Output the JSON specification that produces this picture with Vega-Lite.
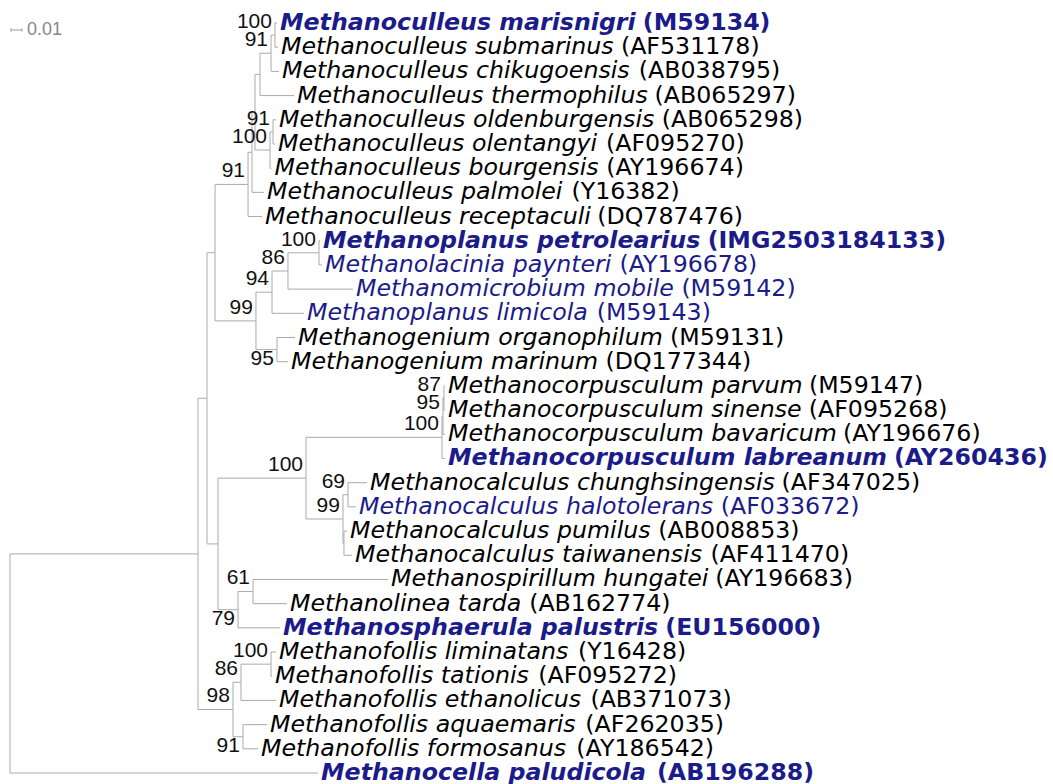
{
  "$schema": "https://vega.github.io/schema/vega-lite/v6.json",
  "width": 1053,
  "height": 784,
  "padding": 0,
  "autosize": {"type": "none"},
  "background": "white",
  "config": {"view": {"stroke": null}},
  "datasets": {
    "nodes": [
      {"id": "R", "parent": null, "depth": 0, "y": 27.4717},
      {"id": "A", "parent": "R", "depth": 0.1709, "y": 22.9434},
      {"id": "B", "parent": "A", "depth": 0.1791, "y": 16.5117},
      {"id": "B1", "parent": "B", "depth": 0.1864, "y": 10.4922},
      {"id": "MC", "parent": "B1", "depth": 0.2164, "y": 7.6719, "support": 91},
      {"id": "X", "parent": "MC", "depth": 0.2200, "y": 6.3438},
      {"id": "Y", "parent": "X", "depth": 0.2227, "y": 4.6875},
      {"id": "Ctop", "parent": "Y", "depth": 0.2273, "y": 3.125},
      {"id": "N91a", "parent": "Ctop", "depth": 0.2373, "y": 2.25, "support": 91},
      {"id": "N100a", "parent": "N91a", "depth": 0.2409, "y": 1.5, "support": 100},
      {"id": "L1", "parent": "N100a", "depth": 0.2427, "y": 1, "name": "Methanoculleus marisnigri", "accession": "M59134", "status": "bold"},
      {"id": "L2", "parent": "N100a", "depth": 0.2436, "y": 2, "name": "Methanoculleus submarinus", "accession": "AF531178", "status": "plain"},
      {"id": "L3", "parent": "N91a", "depth": 0.2445, "y": 3, "name": "Methanoculleus chikugoensis", "accession": "AB038795", "status": "plain"},
      {"id": "L4", "parent": "Ctop", "depth": 0.2582, "y": 4, "name": "Methanoculleus thermophilus", "accession": "AB065297", "status": "plain"},
      {"id": "N100o", "parent": "Y", "depth": 0.2364, "y": 6.25, "support": 100},
      {"id": "N91o", "parent": "N100o", "depth": 0.2391, "y": 5.5, "support": 91},
      {"id": "L5", "parent": "N91o", "depth": 0.2418, "y": 5, "name": "Methanoculleus oldenburgensis", "accession": "AB065298", "status": "plain"},
      {"id": "L6", "parent": "N91o", "depth": 0.2409, "y": 6, "name": "Methanoculleus olentangyi", "accession": "AF095270", "status": "plain"},
      {"id": "L7", "parent": "N100o", "depth": 0.2377, "y": 7, "name": "Methanoculleus bourgensis", "accession": "AY196674", "status": "plain"},
      {"id": "L8", "parent": "X", "depth": 0.2309, "y": 8, "name": "Methanoculleus palmolei", "accession": "Y16382", "status": "plain"},
      {"id": "L9", "parent": "MC", "depth": 0.2291, "y": 9, "name": "Methanoculleus receptaculi", "accession": "DQ787476", "status": "plain"},
      {"id": "N99p", "parent": "B1", "depth": 0.2236, "y": 13.3125, "support": 99},
      {"id": "N94", "parent": "N99p", "depth": 0.2382, "y": 12.125, "support": 94},
      {"id": "N86", "parent": "N94", "depth": 0.2527, "y": 11.25, "support": 86},
      {"id": "N100b", "parent": "N86", "depth": 0.2809, "y": 10.5, "support": 100},
      {"id": "L10", "parent": "N100b", "depth": 0.2818, "y": 10, "name": "Methanoplanus petrolearius", "accession": "IMG2503184133", "status": "bold"},
      {"id": "L11", "parent": "N100b", "depth": 0.2836, "y": 11, "name": "Methanolacinia paynteri", "accession": "AY196678", "status": "blue"},
      {"id": "L12", "parent": "N86", "depth": 0.3118, "y": 12, "name": "Methanomicrobium mobile", "accession": "M59142", "status": "blue"},
      {"id": "L13", "parent": "N94", "depth": 0.2673, "y": 13, "name": "Methanoplanus limicola", "accession": "M59143", "status": "blue"},
      {"id": "N95", "parent": "N99p", "depth": 0.2427, "y": 14.5, "support": 95},
      {"id": "L14", "parent": "N95", "depth": 0.2591, "y": 14, "name": "Methanogenium organophilum", "accession": "M59131", "status": "plain"},
      {"id": "L15", "parent": "N95", "depth": 0.2527, "y": 15, "name": "Methanogenium marinum", "accession": "DQ177344", "status": "plain"},
      {"id": "D", "parent": "B", "depth": 0.1891, "y": 22.5313},
      {"id": "BigCC", "parent": "D", "depth": 0.2691, "y": 19.8125, "support": 100},
      {"id": "N100c", "parent": "BigCC", "depth": 0.3927, "y": 18.125, "support": 100},
      {"id": "N95c", "parent": "N100c", "depth": 0.3936, "y": 17.25, "support": 95},
      {"id": "N87", "parent": "N95c", "depth": 0.3945, "y": 16.5, "support": 87},
      {"id": "L16", "parent": "N87", "depth": 0.3955, "y": 16, "name": "Methanocorpusculum parvum", "accession": "M59147", "status": "plain"},
      {"id": "L17", "parent": "N87", "depth": 0.3955, "y": 17, "name": "Methanocorpusculum sinense", "accession": "AF095268", "status": "plain"},
      {"id": "L18", "parent": "N95c", "depth": 0.3955, "y": 18, "name": "Methanocorpusculum bavaricum", "accession": "AY196676", "status": "plain"},
      {"id": "L19", "parent": "N100c", "depth": 0.3955, "y": 19, "name": "Methanocorpusculum labreanum", "accession": "AY260436", "status": "bold"},
      {"id": "Calc", "parent": "BigCC", "depth": 0.3027, "y": 21.5, "support": 99},
      {"id": "N69", "parent": "Calc", "depth": 0.3073, "y": 20.5, "support": 69},
      {"id": "L20", "parent": "N69", "depth": 0.3245, "y": 20, "name": "Methanocalculus chunghsingensis", "accession": "AF347025", "status": "plain"},
      {"id": "L21", "parent": "N69", "depth": 0.3145, "y": 21, "name": "Methanocalculus halotolerans", "accession": "AF033672", "status": "blue"},
      {"id": "P2", "parent": "Calc", "depth": 0.3036, "y": 22.5},
      {"id": "L22", "parent": "P2", "depth": 0.3064, "y": 22, "name": "Methanocalculus pumilus", "accession": "AB008853", "status": "plain"},
      {"id": "L23", "parent": "P2", "depth": 0.3109, "y": 23, "name": "Methanocalculus taiwanensis", "accession": "AF411470", "status": "plain"},
      {"id": "N79", "parent": "D", "depth": 0.2073, "y": 25.25, "support": 79},
      {"id": "N61", "parent": "N79", "depth": 0.2209, "y": 24.5, "support": 61},
      {"id": "L24", "parent": "N61", "depth": 0.3436, "y": 24, "name": "Methanospirillum hungatei", "accession": "AY196683", "status": "plain"},
      {"id": "L25", "parent": "N61", "depth": 0.2518, "y": 25, "name": "Methanolinea tarda", "accession": "AB162774", "status": "plain"},
      {"id": "L26", "parent": "N79", "depth": 0.2455, "y": 26, "name": "Methanosphaerula palustris", "accession": "EU156000", "status": "bold"},
      {"id": "F", "parent": "A", "depth": 0.2027, "y": 29.375, "support": 98},
      {"id": "N86f", "parent": "F", "depth": 0.2100, "y": 28.25, "support": 86},
      {"id": "N100f", "parent": "N86f", "depth": 0.2373, "y": 27.5, "support": 100},
      {"id": "L27", "parent": "N100f", "depth": 0.2418, "y": 27, "name": "Methanofollis liminatans", "accession": "Y16428", "status": "plain"},
      {"id": "L28", "parent": "N100f", "depth": 0.2382, "y": 28, "name": "Methanofollis tationis", "accession": "AF095272", "status": "plain"},
      {"id": "L29", "parent": "N86f", "depth": 0.2418, "y": 29, "name": "Methanofollis ethanolicus", "accession": "AB371073", "status": "plain"},
      {"id": "N91f", "parent": "F", "depth": 0.2118, "y": 30.5, "support": 91},
      {"id": "L30", "parent": "N91f", "depth": 0.2336, "y": 30, "name": "Methanofollis aquaemaris", "accession": "AF262035", "status": "plain"},
      {"id": "L31", "parent": "N91f", "depth": 0.2255, "y": 31, "name": "Methanofollis formosanus", "accession": "AY186542", "status": "plain"},
      {"id": "L32", "parent": "R", "depth": 0.2800, "y": 32, "name": "Methanocella paludicola", "accession": "AB196288", "status": "bold"}
    ],
    "scalebar": [{"from": 0.0009, "to": 0.0109, "y": 1.29, "label": "0.01"}]
  },
  "layer": [
    {
      "data": {"name": "nodes"},
      "transform": [
        {"filter": "datum.parent != null"},
        {"lookup": "parent", "from": {"data": {"name": "nodes"}, "key": "id", "fields": ["depth", "y"]}, "as": ["pDepth", "pY"]}
      ],
      "mark": {"type": "rule", "color": "#aaaaaa", "strokeWidth": 1},
      "encoding": {
        "x": {"field": "pDepth", "type": "quantitative", "scale": {"domain": [-0.00909, 0.94818], "nice": false, "zero": false}, "axis": null},
        "x2": {"field": "depth"},
        "y": {"field": "y", "type": "quantitative", "scale": {"domain": [0.0494, 32.454], "nice": false, "zero": false, "reverse": true}, "axis": null}
      }
    },
    {
      "data": {"name": "nodes"},
      "transform": [
        {"filter": "datum.parent != null"},
        {"lookup": "parent", "from": {"data": {"name": "nodes"}, "key": "id", "fields": ["depth", "y"]}, "as": ["pDepth", "pY"]}
      ],
      "mark": {"type": "rule", "color": "#aaaaaa", "strokeWidth": 1},
      "encoding": {
        "x": {"field": "pDepth", "type": "quantitative", "scale": {"domain": [-0.00909, 0.94818], "nice": false, "zero": false}, "axis": null},
        "y": {"field": "pY", "type": "quantitative", "scale": {"domain": [0.0494, 32.454], "nice": false, "zero": false, "reverse": true}, "axis": null},
        "y2": {"field": "y"}
      }
    },
    {
      "data": {"name": "nodes"},
      "transform": [{"filter": "datum.name != null && datum.status != 'bold'"}],
      "mark": {"type": "text", "align": "left", "baseline": "middle", "dx": 3, "font": "DejaVu Sans", "fontSize": 23.7, "fontStyle": "italic"},
      "encoding": {
        "x": {"field": "depth", "type": "quantitative", "scale": {"domain": [-0.00909, 0.94818], "nice": false, "zero": false}, "axis": null},
        "y": {"field": "y", "type": "quantitative", "scale": {"domain": [0.0494, 32.454], "nice": false, "zero": false, "reverse": true}, "axis": null},
        "text": {"field": "name"},
        "color": {"field": "status", "type": "nominal", "scale": {"domain": ["bold", "blue", "plain"], "range": ["#1b1b8a", "#1b1b8a", "#000000"]}, "legend": null}
      }
    },
    {
      "data": {"name": "nodes"},
      "transform": [{"filter": "datum.name != null && datum.status == 'bold'"}],
      "mark": {"type": "text", "align": "left", "baseline": "middle", "dx": 3, "font": "DejaVu Sans", "fontSize": 23.7, "fontStyle": "italic", "fontWeight": "bold"},
      "encoding": {
        "x": {"field": "depth", "type": "quantitative", "scale": {"domain": [-0.00909, 0.94818], "nice": false, "zero": false}, "axis": null},
        "y": {"field": "y", "type": "quantitative", "scale": {"domain": [0.0494, 32.454], "nice": false, "zero": false, "reverse": true}, "axis": null},
        "text": {"field": "name"},
        "color": {"field": "status", "type": "nominal", "scale": {"domain": ["bold", "blue", "plain"], "range": ["#1b1b8a", "#1b1b8a", "#000000"]}, "legend": null}
      }
    },
    {
      "data": {"name": "nodes"},
      "transform": [
        {"filter": "datum.name != null"},
        {"calculate": "length(datum.name)", "as": "nL"},
        {"calculate": "length(replace(datum.name, regexp('[^ilj]', 'g'), ''))", "as": "nI"},
        {"calculate": "length(replace(datum.name, regexp('[^ftr ]', 'g'), ''))", "as": "nT"},
        {"calculate": "length(replace(datum.name, regexp('[^scz]', 'g'), ''))", "as": "nS"},
        {"calculate": "length(replace(datum.name, regexp('[^m]', 'g'), ''))", "as": "nm"},
        {"calculate": "length(replace(datum.name, regexp('[^w]', 'g'), ''))", "as": "nw"},
        {"calculate": "length(replace(datum.name, regexp('[^M]', 'g'), ''))", "as": "nM"},
        {"calculate": "datum.status == 'bold' ? (0.697*datum.nL - 0.357*datum.nI - 0.25*datum.nT - 0.105*datum.nS + 0.342*datum.nm + 0.225*datum.nw + 0.295*datum.nM + 0.348) : (0.625*datum.nL - 0.347*datum.nI - 0.255*datum.nT - 0.095*datum.nS + 0.349*datum.nm + 0.193*datum.nw + 0.238*datum.nM + 0.318)", "as": "wem"},
        {"calculate": "datum.depth + (3 + 23.7*datum.wem)/1100", "as": "accX"},
        {"calculate": "'(' + datum.accession + ')'", "as": "acc"}
      ],
      "layer": [
        {
          "transform": [{"filter": "datum.status != 'bold'"}],
          "mark": {"type": "text", "align": "left", "baseline": "middle", "font": "DejaVu Sans", "fontSize": 23.7},
          "encoding": {
            "x": {"field": "accX", "type": "quantitative", "scale": {"domain": [-0.00909, 0.94818], "nice": false, "zero": false}, "axis": null},
            "y": {"field": "y", "type": "quantitative", "scale": {"domain": [0.0494, 32.454], "nice": false, "zero": false, "reverse": true}, "axis": null},
            "text": {"field": "acc"},
            "color": {"field": "status", "type": "nominal", "scale": {"domain": ["bold", "blue", "plain"], "range": ["#1b1b8a", "#1b1b8a", "#000000"]}, "legend": null}
          }
        },
        {
          "transform": [{"filter": "datum.status == 'bold'"}],
          "mark": {"type": "text", "align": "left", "baseline": "middle", "font": "DejaVu Sans", "fontSize": 23.7, "fontWeight": "bold"},
          "encoding": {
            "x": {"field": "accX", "type": "quantitative", "scale": {"domain": [-0.00909, 0.94818], "nice": false, "zero": false}, "axis": null},
            "y": {"field": "y", "type": "quantitative", "scale": {"domain": [0.0494, 32.454], "nice": false, "zero": false, "reverse": true}, "axis": null},
            "text": {"field": "acc"},
            "color": {"field": "status", "type": "nominal", "scale": {"domain": ["bold", "blue", "plain"], "range": ["#1b1b8a", "#1b1b8a", "#000000"]}, "legend": null}
          }
        }
      ]
    },
    {
      "data": {"name": "nodes"},
      "transform": [
        {"filter": "datum.support != null"},
        {"calculate": "datum.y + (indexof(['N95', 'N79', 'N91f'], datum.id) >= 0 ? 0.37 : -0.54)", "as": "labY"}
      ],
      "mark": {"type": "text", "align": "right", "baseline": "middle", "dx": -3, "font": "Liberation Sans", "fontSize": 21, "color": "#111111"},
      "encoding": {
        "x": {"field": "depth", "type": "quantitative", "scale": {"domain": [-0.00909, 0.94818], "nice": false, "zero": false}, "axis": null},
        "y": {"field": "labY", "type": "quantitative", "scale": {"domain": [0.0494, 32.454], "nice": false, "zero": false, "reverse": true}, "axis": null},
        "text": {"field": "support"}
      }
    },
    {
      "data": {"name": "scalebar"},
      "transform": [
        {"calculate": "datum.y - 0.07", "as": "yTop"},
        {"calculate": "datum.y + 0.07", "as": "yBot"}
      ],
      "layer": [
        {
          "mark": {"type": "rule", "color": "#999999", "strokeWidth": 1},
          "encoding": {
            "x": {"field": "from", "type": "quantitative", "scale": {"domain": [-0.00909, 0.94818], "nice": false, "zero": false}, "axis": null},
            "x2": {"field": "to"},
            "y": {"field": "y", "type": "quantitative", "scale": {"domain": [0.0494, 32.454], "nice": false, "zero": false, "reverse": true}, "axis": null}
          }
        },
        {
          "mark": {"type": "rule", "color": "#999999", "strokeWidth": 1},
          "encoding": {
            "x": {"field": "from", "type": "quantitative", "scale": {"domain": [-0.00909, 0.94818], "nice": false, "zero": false}, "axis": null},
            "y": {"field": "yTop", "type": "quantitative", "scale": {"domain": [0.0494, 32.454], "nice": false, "zero": false, "reverse": true}, "axis": null},
            "y2": {"field": "yBot"}
          }
        },
        {
          "mark": {"type": "rule", "color": "#999999", "strokeWidth": 1},
          "encoding": {
            "x": {"field": "to", "type": "quantitative", "scale": {"domain": [-0.00909, 0.94818], "nice": false, "zero": false}, "axis": null},
            "y": {"field": "yTop", "type": "quantitative", "scale": {"domain": [0.0494, 32.454], "nice": false, "zero": false, "reverse": true}, "axis": null},
            "y2": {"field": "yBot"}
          }
        },
        {
          "mark": {"type": "text", "align": "left", "baseline": "middle", "dx": 5, "font": "Liberation Sans", "fontSize": 18, "color": "#888888"},
          "encoding": {
            "x": {"field": "to", "type": "quantitative", "scale": {"domain": [-0.00909, 0.94818], "nice": false, "zero": false}, "axis": null},
            "y": {"field": "y", "type": "quantitative", "scale": {"domain": [0.0494, 32.454], "nice": false, "zero": false, "reverse": true}, "axis": null},
            "text": {"field": "label"}
          }
        }
      ]
    }
  ]
}
